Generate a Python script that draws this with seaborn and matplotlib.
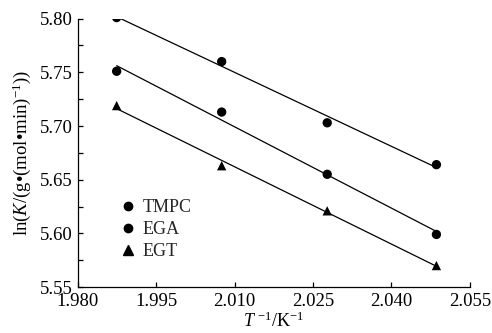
import numpy as np
import pandas as pd
import seaborn as sns
import matplotlib
matplotlib.use("Agg")
import matplotlib.pyplot as plt
from matplotlib.ticker import MultipleLocator, FormatStrFormatter
from matplotlib.lines import Line2D

# Inverse temperature (K^-1 scale) and ln K for each resin system
inv_T = [1.9874, 2.0075, 2.0277, 2.0486]
tmpc = [5.801, 5.760, 5.703, 5.664]
ega = [5.751, 5.713, 5.655, 5.599]
egt = [5.719, 5.663, 5.621, 5.570]
series_names = ["TMPC", "EGA", "EGT"]

df = pd.DataFrame({
    "x": inv_T * 3,
    "y": tmpc + ega + egt,
    "series": np.repeat(series_names, len(inv_T)),
})

sns.set_theme(style="ticks")
plt.rcParams["font.family"] = ["Liberation Serif", "DejaVu Serif"]
plt.rcParams["mathtext.fontset"] = "custom"
plt.rcParams["mathtext.rm"] = "Liberation Serif"
plt.rcParams["mathtext.it"] = "Liberation Serif:italic"

fig = plt.figure(figsize=(4.92, 3.33), dpi=100)
ax = fig.add_axes([0.1585, 0.138, 0.7965, 0.806])

markers = {"TMPC": "o", "EGA": "o", "EGT": "^"}
# Linear fit for each series over the measured range
for name in series_names:
    sub = df[df["series"] == name]
    sns.regplot(data=sub, x="x", y="y", ax=ax, ci=None, truncate=True,
                scatter=False, line_kws=dict(color="black", lw=0.9))
sns.scatterplot(data=df, x="x", y="y", style="series", markers=markers,
                color="black", s=45, edgecolor="none", ax=ax, legend=False)

handles = [Line2D([], [], ls="none", marker=markers[n], color="black",
                  markersize=6 if n != "EGT" else 7) for n in series_names]
ax.legend(handles, series_names, loc="upper left", bbox_to_anchor=(0.085, 0.355),
          frameon=False, fontsize=13, handlelength=1.0, handletextpad=0.35,
          labelspacing=0.28, borderaxespad=0)

ax.set_xlim(1.980, 2.055)
ax.set_ylim(5.55, 5.80)
ax.xaxis.set_major_locator(MultipleLocator(0.015))
ax.xaxis.set_major_formatter(FormatStrFormatter("%.3f"))
ax.yaxis.set_major_locator(MultipleLocator(0.05))
ax.yaxis.set_minor_locator(MultipleLocator(0.025))
ax.yaxis.set_major_formatter(FormatStrFormatter("%.2f"))
ax.tick_params(axis="both", which="both", direction="in", labelsize=13.5,
               width=0.9, color="black", labelcolor="black")
ax.tick_params(axis="x", which="major", length=3.5, pad=4.5)
ax.tick_params(axis="y", which="major", length=3.5, pad=4)
ax.tick_params(axis="y", which="minor", length=3.5)

for side in ["top", "right"]:
    ax.spines[side].set_visible(False)
for side in ["left", "bottom"]:
    ax.spines[side].set_linewidth(0.9)
    ax.spines[side].set_color("black")

ax.set_xlabel(r"$\mathit{T}$ $^{-1}$/K$^{-1}$", fontsize=13, labelpad=1, color="black")
ax.set_ylabel(r"ln($\mathit{K}$/(g•(mol•min)$^{-1}$))", fontsize=13.5, labelpad=5,
              color="black")

fig.savefig("out.png", dpi=100, facecolor="white")
